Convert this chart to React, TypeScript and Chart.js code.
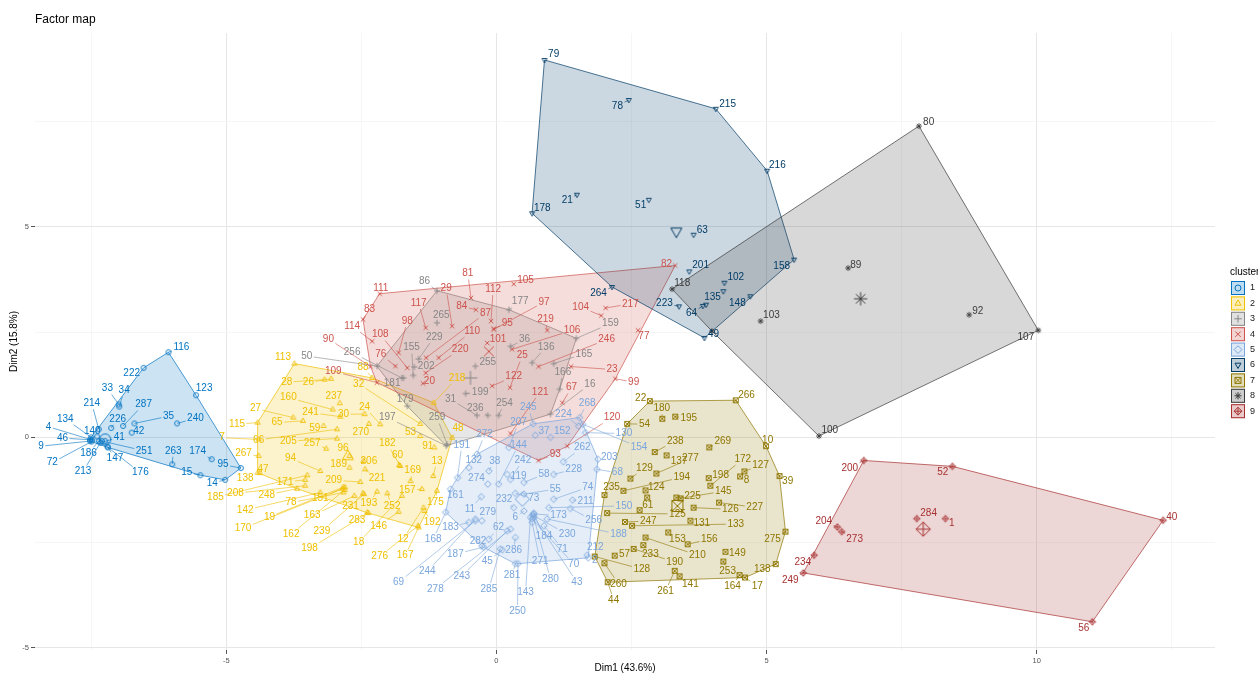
import React, { useEffect, useRef } from "react";
import { Chart, registerables } from "chart.js";

Chart.register(...registerables);

// [label, Dim1, Dim2, labelDim1, labelDim2]
type Row = [string, number, number, number, number];

const cluster1: Row[] = [
  ["116", -6.07, 2.02, -5.83, 2.13], ["222", -6.53, 1.65, -6.75, 1.53], ["123", -5.56, 1.0, -5.41, 1.16],
  ["33", -6.99, 0.78, -7.2, 1.16], ["34", -6.98, 0.73, -6.89, 1.11], ["214", -7.36, 0.19, -7.49, 0.81],
  ["287", -6.91, 0.27, -6.53, 0.78], ["226", -7.13, 0.22, -7.01, 0.44], ["42", -6.75, 0.11, -6.62, 0.15],
  ["35", -6.7, 0.33, -6.07, 0.5], ["240", -5.91, 0.33, -5.57, 0.45], ["140", -7.39, 0.02, -7.48, 0.15],
  ["41", -7.24, -0.09, -6.98, -0.01], ["4", -7.52, -0.05, -8.29, 0.25], ["134", -7.5, 0.0, -7.98, 0.44],
  ["46", -7.49, -0.06, -8.03, -0.02], ["9", -7.52, -0.09, -8.43, -0.21], ["72", -7.49, -0.1, -8.22, -0.6],
  ["186", -7.36, -0.09, -7.55, -0.38], ["213", -7.33, -0.13, -7.65, -0.81], ["147", -7.2, -0.22, -7.06, -0.5],
  ["176", -7.19, -0.24, -6.59, -0.84], ["251", -7.3, -0.09, -6.52, -0.32], ["263", -6.0, -0.64, -5.98, -0.32],
  ["174", -5.27, -0.52, -5.53, -0.33], ["95", -4.73, -0.73, -5.06, -0.65], ["15", -5.48, -0.9, -5.73, -0.84],
  ["14", -5.02, -1.01, -5.26, -1.09],
];

const cluster2: Row[] = [
  ["113", -3.74, 1.75, -3.95, 1.89], ["28", -3.18, 1.37, -3.88, 1.31], ["26", -3.06, 1.39, -3.48, 1.3],
  ["88", -2.3, 1.41, -2.47, 1.67], ["32", -1.41, 0.32, -2.55, 1.27], ["218", -1.16, 0.82, -0.73, 1.41],
  ["48", -0.82, -0.01, -0.71, 0.21], ["160", -3.03, 0.66, -3.85, 0.94], ["237", -2.9, 0.81, -3.01, 0.98],
  ["27", -3.76, 0.47, -4.46, 0.68], ["65", -3.58, 0.39, -4.06, 0.35], ["241", -2.89, 0.49, -3.44, 0.59],
  ["30", -2.44, 0.55, -2.83, 0.55], ["24", -2.15, 0.31, -2.44, 0.72], ["270", -2.36, 0.32, -2.51, 0.11],
  ["115", -4.42, 0.35, -4.8, 0.31], ["59", -3.2, 0.27, -3.36, 0.21], ["66", -2.95, 0.19, -4.4, -0.06],
  ["7", -4.4, -0.05, -5.08, -0.01], ["205", -2.95, -0.03, -3.85, -0.09], ["257", -3.15, -0.27, -3.41, -0.13],
  ["96", -2.72, -0.44, -2.84, -0.27], ["182", -1.78, -0.68, -2.02, -0.15], ["60", -1.8, -0.66, -1.83, -0.43],
  ["53", -1.41, 0.03, -1.59, 0.13], ["91", -1.15, -0.24, -1.27, -0.21], ["13", -1.17, -0.92, -1.1, -0.56],
  ["169", -1.59, -1.04, -1.55, -0.78], ["206", -2.46, -0.56, -2.36, -0.58], ["189", -2.72, -0.72, -2.92, -0.64],
  ["94", -3.26, -0.8, -3.81, -0.5], ["267", -4.4, -0.44, -4.68, -0.39], ["47", -4.38, -0.85, -4.32, -0.76],
  ["221", -2.43, -0.76, -2.21, -0.98], ["209", -2.52, -1.06, -3.01, -1.02], ["171", -3.54, -1.01, -3.91, -1.06],
  ["157", -1.38, -1.23, -1.65, -1.26], ["175", -1.1, -1.27, -1.13, -1.53], ["208", -3.54, -1.15, -4.83, -1.33],
  ["248", -3.69, -1.22, -4.25, -1.37], ["78", -2.83, -1.31, -3.8, -1.55], ["151", -2.8, -1.19, -3.26, -1.45],
  ["142", -3.26, -1.31, -4.65, -1.73], ["19", -2.83, -1.18, -4.2, -1.89], ["170", -2.85, -1.22, -4.69, -2.16],
  ["163", -2.63, -1.39, -3.41, -1.86], ["231", -2.47, -1.33, -2.7, -1.63], ["193", -2.21, -1.29, -2.36, -1.56],
  ["252", -2.02, -1.33, -1.93, -1.63], ["283", -2.39, -1.78, -2.58, -1.98], ["146", -1.81, -1.77, -2.18, -2.1],
  ["162", -2.81, -1.25, -3.8, -2.3], ["239", -2.45, -1.35, -3.23, -2.22], ["198", -2.37, -1.8, -3.46, -2.64],
  ["18", -1.75, -1.39, -2.55, -2.5], ["12", -1.35, -1.67, -1.73, -2.42], ["192", -1.33, -1.75, -1.19, -2.02],
  ["276", -1.45, -2.1, -2.16, -2.83], ["167", -1.44, -2.14, -1.69, -2.81], ["138", -4.42, -0.84, -4.65, -0.98],
  ["185", -3.5, -0.9, -5.2, -1.42],
];

const cluster3: Row[] = [
  ["86", -1.1, 3.48, -1.33, 3.7], ["265", -1.1, 2.72, -1.02, 2.89], ["229", -1.44, 1.86, -1.15, 2.38],
  ["155", -1.54, 1.47, -1.57, 2.13], ["202", -1.52, 1.67, -1.3, 1.69], ["256", -1.75, 1.41, -2.67, 2.01],
  ["50", -2.21, 1.69, -3.51, 1.93], ["181", -1.72, 1.41, -1.93, 1.28], ["177", 0.23, 3.03, 0.44, 3.22],
  ["36", 0.26, 2.16, 0.52, 2.32], ["255", -0.39, 1.69, -0.16, 1.79], ["199", -0.57, 1.04, -0.3, 1.06],
  ["31", -0.36, 0.52, -0.85, 0.9], ["236", -0.16, 0.52, -0.39, 0.7], ["254", 0.04, 0.52, 0.15, 0.82],
  ["136", 0.66, 1.77, 0.92, 2.15], ["165", 1.06, 1.75, 1.62, 1.98], ["166", 1.17, 1.14, 1.23, 1.55],
  ["159", 1.48, 2.35, 2.11, 2.7], ["16", 1.0, 0.55, 1.73, 1.26], ["179", -1.65, 0.74, -1.69, 0.9],
  ["197", -0.93, -0.2, -2.02, 0.47], ["259", -0.91, -0.17, -1.1, 0.47],
];

const cluster4: Row[] = [
  ["111", -2.16, 3.41, -2.14, 3.55], ["29", -0.82, 2.64, -0.93, 3.53], ["81", -0.47, 3.31, -0.53, 3.89],
  ["105", 0.32, 3.64, 0.54, 3.74], ["112", -0.1, 2.76, -0.06, 3.52], ["97", -0.05, 2.56, 0.88, 3.21],
  ["84", -0.38, 3.03, -0.64, 3.11], ["87", -1.3, 1.89, -0.2, 2.95], ["110", -1.07, 1.89, -0.45, 2.52],
  ["220", -1.31, 1.53, -0.67, 2.09], ["117", -1.31, 2.6, -1.44, 3.19], ["98", -1.81, 2.01, -1.65, 2.76],
  ["83", -2.47, 2.8, -2.35, 3.03], ["114", -2.3, 2.28, -2.67, 2.64], ["108", -1.65, 1.65, -2.15, 2.44],
  ["76", -1.87, 1.69, -2.14, 1.97], ["20", -1.36, 1.28, -1.24, 1.33], ["90", -2.33, 1.68, -3.11, 2.34],
  ["109", -2.21, 1.3, -3.02, 1.57], ["101", -0.17, 2.24, 0.03, 2.34], ["95", -0.05, 2.58, 0.2, 2.72],
  ["219", 0.94, 2.54, 0.91, 2.8], ["106", 0.29, 2.09, 1.4, 2.54], ["25", 0.25, 1.18, 0.48, 1.94],
  ["122", -0.08, 1.22, 0.32, 1.44], ["246", 0.78, 1.68, 2.04, 2.32], ["104", 1.94, 2.89, 1.56, 3.09],
  ["217", 2.02, 3.07, 2.48, 3.17], ["77", 2.62, 2.54, 2.73, 2.4], ["82", 3.31, 4.08, 3.15, 4.12],
  ["23", 1.38, 1.68, 2.14, 1.61], ["99", 2.2, 1.39, 2.54, 1.31], ["67", 1.22, 0.82, 1.39, 1.18],
  ["121", 0.26, 0.09, 0.81, 1.08], ["93", 0.78, -0.55, 1.09, -0.4], ["120", 1.31, -0.21, 2.14, 0.47],
];

const cluster5: Row[] = [
  ["268", 1.54, 0.47, 1.68, 0.81], ["224", 1.52, 0.27, 1.24, 0.55], ["245", 0.68, 0.32, 0.59, 0.71],
  ["37", 0.72, 0.05, 0.88, 0.14], ["152", 1.0, 0.0, 1.22, 0.14], ["207", 0.23, -0.24, 0.41, 0.36],
  ["272", -0.36, -0.4, -0.22, 0.07], ["191", -0.72, -0.96, -0.64, -0.18], ["132", -0.51, -0.72, -0.42, -0.54],
  ["38", -0.14, -0.8, -0.03, -0.56], ["144", 0.04, -1.11, 0.41, -0.18], ["242", 0.26, -1.0, 0.49, -0.54],
  ["274", -0.16, -1.11, -0.37, -0.98], ["119", 0.2, -0.88, 0.41, -0.92], ["262", 1.24, -0.58, 1.59, -0.24],
  ["130", 1.65, 0.11, 2.36, 0.09], ["203", 1.88, -0.52, 2.09, -0.47], ["154", 1.6, 0.31, 2.64, -0.23],
  ["58", 0.51, -1.07, 0.88, -0.88], ["228", 1.06, -0.88, 1.43, -0.76], ["68", 1.86, -0.76, 2.24, -0.84],
  ["55", 0.51, -1.35, 1.09, -1.23], ["73", 0.35, -1.33, 0.69, -1.45], ["232", 0.32, -1.67, 0.14, -1.47],
  ["74", 1.06, -1.47, 1.69, -1.19], ["211", 1.41, -1.49, 1.65, -1.52], ["150", 0.97, -1.67, 2.36, -1.63],
  ["6", 0.51, -1.75, 0.35, -1.9], ["173", 0.69, -1.82, 1.15, -1.86], ["256", 1.37, -1.69, 1.8, -1.98],
  ["188", 0.94, -1.94, 2.26, -2.3], ["230", 0.69, -1.86, 1.31, -2.3], ["184", 0.69, -1.8, 0.88, -2.35],
  ["71", 0.88, -2.1, 1.22, -2.65], ["212", 1.68, -2.8, 1.83, -2.61], ["2", 1.7, -2.86, 1.82, -2.93],
  ["70", 0.66, -1.94, 1.43, -3.01], ["43", 0.67, -1.85, 1.49, -3.44], ["280", 0.69, -1.9, 1.0, -3.36],
  ["271", 0.66, -2.02, 0.81, -2.95], ["143", 0.63, -1.9, 0.54, -3.68], ["250", 0.4, -3.0, 0.39, -4.12],
  ["281", 0.35, -3.0, 0.29, -3.27], ["286", 0.35, -2.38, 0.32, -2.69], ["285", 0.07, -2.65, -0.14, -3.6],
  ["45", 0.11, -2.67, -0.17, -2.95], ["282", -0.27, -2.58, -0.34, -2.46], ["62", -0.14, -2.42, 0.04, -2.14],
  ["279", -0.27, -1.98, -0.16, -1.78], ["11", -0.28, -1.41, -0.49, -1.71], ["161", -0.85, -1.23, -0.76, -1.37],
  ["183", -0.51, -2.02, -0.85, -2.13], ["168", -0.94, -1.78, -1.17, -2.42], ["187", -0.24, -2.61, -0.76, -2.77],
  ["244", -0.39, -1.94, -1.28, -3.19], ["243", 0.2, -2.22, -0.64, -3.29], ["278", 0.26, -2.18, -1.13, -3.6],
  ["69", -0.39, -1.98, -1.81, -3.44],
];

const cluster6: Row[] = [
  ["79", 0.89, 8.96, 1.06, 9.1], ["78", 2.45, 8.01, 2.24, 7.87], ["215", 4.06, 7.8, 4.28, 7.91],
  ["216", 5.01, 6.33, 5.2, 6.45], ["178", 0.66, 5.32, 0.85, 5.45], ["21", 1.49, 5.76, 1.31, 5.64],
  ["51", 2.82, 5.64, 2.67, 5.52], ["63", 3.65, 4.81, 3.81, 4.91], ["201", 3.57, 3.94, 3.78, 4.08],
  ["102", 4.22, 3.67, 4.43, 3.79], ["", 4.2, 3.47, 4.2, 3.47], ["158", 5.51, 4.22, 5.28, 4.05],
  ["148", 4.7, 3.35, 4.46, 3.18], ["135", 3.88, 3.15, 4.0, 3.32], ["64", 3.82, 3.12, 3.61, 2.94],
  ["223", 3.38, 3.11, 3.11, 3.18], ["264", 2.14, 3.57, 1.89, 3.41], ["49", 3.85, 2.36, 4.02, 2.44],
];

const cluster7: Row[] = [
  ["22", 2.84, 0.86, 2.67, 0.92], ["266", 4.43, 0.88, 4.63, 1.0], ["180", 3.07, 0.44, 3.06, 0.69],
  ["195", 3.31, 0.49, 3.56, 0.45], ["54", 2.42, 0.32, 2.74, 0.31], ["10", 4.99, -0.21, 5.02, -0.07],
  ["39", 5.24, -0.92, 5.39, -1.04], ["238", 2.93, -0.35, 3.31, -0.09], ["269", 3.94, -0.24, 4.19, -0.09],
  ["137", 3.15, -0.43, 3.38, -0.56], ["277", 2.96, -0.86, 3.59, -0.5], ["129", 2.48, -0.98, 2.74, -0.73],
  ["198", 3.93, -0.97, 4.15, -0.9], ["172", 3.96, -1.15, 4.56, -0.52], ["127", 4.59, -0.81, 4.89, -0.66],
  ["8", 4.51, -0.93, 4.63, -1.02], ["194", 2.35, -1.27, 3.43, -0.95], ["124", 2.76, -1.26, 2.96, -1.18],
  ["", 2.79, -1.43, 2.79, -1.43], ["235", 2.0, -1.37, 2.13, -1.18], ["225", 3.33, -1.43, 3.63, -1.4],
  ["145", 3.41, -1.45, 4.2, -1.28], ["227", 4.12, -1.55, 4.78, -1.66], ["126", 3.65, -1.67, 4.33, -1.71],
  ["61", 2.65, -1.73, 2.8, -1.61], ["125", 2.05, -1.8, 3.35, -1.82], ["247", 2.38, -2.01, 2.81, -1.99],
  ["131", 3.59, -1.98, 3.8, -2.04], ["133", 2.51, -2.1, 4.43, -2.06], ["153", 3.18, -2.26, 3.35, -2.42],
  ["156", 3.54, -2.54, 3.94, -2.42], ["210", 2.76, -2.38, 3.72, -2.8], ["149", 4.24, -2.72, 4.46, -2.75],
  ["233", 2.72, -2.56, 2.85, -2.77], ["190", 2.54, -2.65, 3.3, -2.96], ["57", 2.19, -2.81, 2.37, -2.77],
  ["128", 1.82, -2.83, 2.69, -3.13], ["253", 4.2, -2.95, 4.28, -3.18], ["138", 5.17, -3.01, 4.92, -3.14],
  ["275", 5.35, -2.24, 5.11, -2.42], ["261", 3.3, -3.17, 3.13, -3.65], ["141", 3.39, -3.3, 3.59, -3.48],
  ["164", 4.5, -3.27, 4.37, -3.53], ["17", 4.6, -3.33, 4.83, -3.53], ["260", 2.0, -2.99, 2.26, -3.48],
  ["44", 2.06, -3.44, 2.17, -3.86],
];

const cluster8: Row[] = [
  ["80", 7.82, 7.39, 8.0, 7.49], ["89", 6.51, 4.02, 6.65, 4.08], ["92", 8.75, 2.91, 8.91, 2.99],
  ["107", 10.03, 2.54, 9.8, 2.37], ["100", 5.97, 0.03, 6.17, 0.17], ["103", 4.89, 2.76, 5.09, 2.89],
  ["118", 3.25, 3.52, 3.44, 3.65], ["", 3.99, 2.52, 3.99, 2.52],
];

const cluster9: Row[] = [
  ["200", 6.8, -0.55, 6.54, -0.73], ["52", 8.44, -0.69, 8.26, -0.83], ["40", 12.34, -1.97, 12.5, -1.9],
  ["56", 11.03, -4.38, 10.87, -4.53], ["249", 5.68, -3.22, 5.44, -3.39], ["234", 5.88, -2.8, 5.67, -2.96],
  ["204", 6.31, -2.13, 6.06, -1.99], ["273", 6.39, -2.24, 6.63, -2.42], ["284", 7.78, -1.93, 8.0, -1.8],
  ["1", 8.31, -1.93, 8.43, -2.04],
];

const clusterNames = ["1", "2", "3", "4", "5", "6", "7", "8", "9"];
const clusterColors = ["#0073C2", "#EFC000", "#868686", "#CD534C", "#7AA6DC", "#003C67", "#8F7700", "#3B3B3B", "#A73030"];
const clusterShapes = ["circle", "triangle", "plus", "cross", "diamond", "triangleDown", "squareCross", "asterisk", "diamondPlus"];
const centerX = [-7.24, -2.75, -0.48, -0.14, 0.48, 3.33, 3.35, 6.74, 7.9];
const centerY = [-0.05, -0.45, 1.41, 2.04, -1.47, 4.89, -1.63, 3.29, -2.18];

const xGridValues = [-7.5, -5, -2.5, 0, 2.5, 5, 7.5, 10, 12.5];
const yGridValues = [-5, -2.5, 0, 2.5, 5, 7.5];
const xRange = [-8.54, 13.3];
const yRange = [-5.05, 9.6];

const FONT = '"Liberation Sans", Arial, Helvetica, sans-serif';

function hexA(hex: string, a: number) {
  const n = parseInt(hex.slice(1), 16);
  return `rgba(${(n >> 16) & 255},${(n >> 8) & 255},${n & 255},${a})`;
}

function traceShape(ctx: CanvasRenderingContext2D, kind: string, x: number, y: number, r: number) {
  ctx.beginPath();
  const plus = (s: number) => {
    ctx.moveTo(x - s, y); ctx.lineTo(x + s, y); ctx.moveTo(x, y - s); ctx.lineTo(x, y + s);
  };
  const cross = (s: number) => {
    ctx.moveTo(x - s, y - s); ctx.lineTo(x + s, y + s); ctx.moveTo(x - s, y + s); ctx.lineTo(x + s, y - s);
  };
  const diamond = (s: number) => {
    ctx.moveTo(x, y - s); ctx.lineTo(x + s, y); ctx.lineTo(x, y + s); ctx.lineTo(x - s, y); ctx.closePath();
  };
  switch (kind) {
    case "circle": ctx.arc(x, y, r, 0, Math.PI * 2); break;
    case "triangle":
      ctx.moveTo(x, y - r * 1.15); ctx.lineTo(x + r, y + r * 0.6); ctx.lineTo(x - r, y + r * 0.6); ctx.closePath(); break;
    case "triangleDown":
      ctx.moveTo(x, y + r * 1.15); ctx.lineTo(x + r, y - r * 0.6); ctx.lineTo(x - r, y - r * 0.6); ctx.closePath(); break;
    case "plus": plus(r * 1.25); break;
    case "cross": cross(r * 0.9); break;
    case "diamond": diamond(r * 1.3); break;
    case "squareCross": ctx.rect(x - r, y - r, 2 * r, 2 * r); cross(r); break;
    case "asterisk": plus(r * 1.2); cross(r * 0.85); break;
    case "diamondPlus": diamond(r * 1.3); plus(r * 1.3); break;
  }
  ctx.stroke();
}

function shapeImage(kind: string, color: string, r: number, lw: number) {
  const size = 2 * Math.ceil(r * 1.35 + 2);
  const c = document.createElement("canvas");
  c.width = size; c.height = size;
  const g = c.getContext("2d") as CanvasRenderingContext2D;
  g.strokeStyle = color; g.lineWidth = lw;
  traceShape(g, kind, size / 2, size / 2, r);
  return c;
}

function convexHull(pts: { x: number; y: number }[]) {
  const p = pts.slice().sort((a, b) => a.x - b.x || a.y - b.y);
  if (p.length < 3) return p;
  const cr = (o: any, a: any, b: any) => (a.x - o.x) * (b.y - o.y) - (a.y - o.y) * (b.x - o.x);
  const lower: any[] = [];
  for (const q of p) { while (lower.length >= 2 && cr(lower[lower.length - 2], lower[lower.length - 1], q) <= 0) lower.pop(); lower.push(q); }
  const upper: any[] = [];
  for (let i = p.length - 1; i >= 0; i--) { const q = p[i]; while (upper.length >= 2 && cr(upper[upper.length - 2], upper[upper.length - 1], q) <= 0) upper.pop(); upper.push(q); }
  upper.pop(); lower.pop();
  return lower.concat(upper);
}

export default function App() {
  const ref = useRef<HTMLCanvasElement>(null);
  useEffect(() => {
    document.body.style.margin = "0";
    const canvas = ref.current;
    if (!canvas) return;
    const clusters = [cluster1, cluster2, cluster3, cluster4, cluster5, cluster6, cluster7, cluster8, cluster9];

    const datasets: any[] = [];
    clusters.forEach((rows, k) => {
      datasets.push({
        label: clusterNames[k],
        data: rows.map((r) => ({ x: r[1], y: r[2] })),
        pointStyle: shapeImage(clusterShapes[k], clusterColors[k], 2.5, 0.9),
        pointRadius: 3,
        showLine: false,
      });
      datasets.push({
        label: "center " + clusterNames[k],
        data: [{ x: centerX[k], y: centerY[k] }],
        pointStyle: shapeImage(clusterShapes[k], clusterColors[k], 5.5, 1),
        pointRadius: 6,
        showLine: false,
      });
    });

    const isMajor = (v: number) => Math.abs(v % 5) < 1e-9;

    const hullPlugin = {
      id: "hulls",
      beforeDatasetsDraw(chart: any) {
        const { ctx, chartArea: a } = chart;
        const xs = chart.scales.x, ys = chart.scales.y;
        ctx.save();
        ctx.beginPath(); ctx.rect(a.left, a.top, a.right - a.left, a.bottom - a.top); ctx.clip();
        clusters.forEach((rows, k) => {
          const pts = rows.map((r) => ({ x: xs.getPixelForValue(r[1]), y: ys.getPixelForValue(r[2]) }));
          const hull = convexHull(pts);
          ctx.beginPath();
          hull.forEach((p: any, i: number) => (i ? ctx.lineTo(p.x, p.y) : ctx.moveTo(p.x, p.y)));
          ctx.closePath();
          ctx.fillStyle = hexA(clusterColors[k], 0.2);
          ctx.fill();
          ctx.strokeStyle = clusterColors[k];
          ctx.lineWidth = 0.7;
          ctx.stroke();
        });
        ctx.restore();
      },
    };

    const labelPlugin = {
      id: "pointLabels",
      afterDatasetsDraw(chart: any) {
        const { ctx, chartArea: a } = chart;
        const xs = chart.scales.x, ys = chart.scales.y;
        ctx.save();
        ctx.beginPath(); ctx.rect(a.left, a.top, a.right - a.left, a.bottom - a.top); ctx.clip();
        ctx.font = `10px ${FONT}`;
        ctx.textAlign = "center";
        ctx.textBaseline = "middle";
        clusters.forEach((rows, k) => {
          ctx.strokeStyle = clusterColors[k];
          ctx.fillStyle = clusterColors[k];
          ctx.lineWidth = 0.6;
          rows.forEach((r) => {
            if (!r[0]) return;
            const px = xs.getPixelForValue(r[1]), py = ys.getPixelForValue(r[2]);
            const lx = xs.getPixelForValue(r[3]), ly = ys.getPixelForValue(r[4]);
            const w = ctx.measureText(r[0]).width / 2 + 1.5, h = 6;
            const dx = px - lx, dy = py - ly;
            if (Math.abs(dx) > w || Math.abs(dy) > h) {
              const t = Math.min(w / Math.max(Math.abs(dx), 1e-6), h / Math.max(Math.abs(dy), 1e-6));
              const ex = lx + dx * t, ey = ly + dy * t;
              if (Math.hypot(px - ex, py - ey) > 3) {
                ctx.beginPath(); ctx.moveTo(px, py); ctx.lineTo(ex, ey); ctx.stroke();
              }
            }
            ctx.fillText(r[0], lx, ly);
          });
        });
        ctx.restore();
      },
    };

    const decorPlugin = {
      id: "decor",
      afterDraw(chart: any) {
        const ctx = chart.ctx;
        ctx.save();
        ctx.fillStyle = "#000";
        ctx.font = `12px ${FONT}`;
        ctx.textAlign = "left";
        ctx.textBaseline = "middle";
        ctx.fillText("Factor map", 35, 20);
        ctx.font = `10px ${FONT}`;
        ctx.fillText("cluster", 1230, 272);
        clusterNames.forEach((name, k) => {
          const yc = 288 + k * 15.4;
          ctx.fillStyle = hexA(clusterColors[k], 0.25);
          ctx.fillRect(1231, yc - 7, 14, 14);
          ctx.strokeStyle = clusterColors[k];
          ctx.lineWidth = 1;
          ctx.strokeRect(1231.5, yc - 6.5, 13, 13);
          ctx.lineWidth = 1;
          traceShape(ctx, clusterShapes[k], 1238, yc, 3);
          ctx.fillStyle = "#1a1a1a";
          ctx.font = `9px ${FONT}`;
          ctx.fillText(name, 1250, yc);
        });
        ctx.restore();
      },
    };

    const chart = new Chart(canvas, {
      type: "scatter",
      data: { datasets },
      options: {
        responsive: false,
        maintainAspectRatio: false,
        devicePixelRatio: 1,
        animation: false,
        layout: { padding: { top: 33, right: 43, left: 0, bottom: 0 } },
        plugins: { legend: { display: false }, tooltip: { enabled: false }, title: { display: false } },
        scales: {
          x: {
            type: "linear",
            min: xRange[0],
            max: xRange[1],
            afterBuildTicks: (s: any) => { s.ticks = xGridValues.map((v) => ({ value: v })); },
            afterFit: (s: any) => { s.height = 24; },
            ticks: {
              autoSkip: false, maxRotation: 0, padding: 2, color: "#555",
              font: { size: 7.5, family: FONT },
              callback: (v: any) => (isMajor(Number(v)) ? String(v) : ""),
            },
            grid: {
              color: (c: any) => (c.tick && isMajor(c.tick.value) ? "#E6E6E6" : "#F2F2F2"),
              lineWidth: (c: any) => (c.tick && isMajor(c.tick.value) ? 1 : 0.7),
              tickColor: (c: any) => (c.tick && isMajor(c.tick.value) ? "#555" : "rgba(0,0,0,0)"),
              tickLength: 4,
              tickWidth: 1,
            },
            border: { display: false },
            title: { display: true, text: "Dim1 (43.6%)", color: "#000", font: { size: 10, family: FONT }, padding: { top: 0, bottom: 0 } },
          },
          y: {
            type: "linear",
            min: yRange[0],
            max: yRange[1],
            afterBuildTicks: (s: any) => { s.ticks = yGridValues.map((v) => ({ value: v })); },
            afterFit: (s: any) => { s.width = 35; },
            ticks: {
              autoSkip: false, padding: 2, color: "#555",
              font: { size: 7.5, family: FONT },
              callback: (v: any) => (isMajor(Number(v)) ? String(v) : ""),
            },
            grid: {
              color: (c: any) => (c.tick && isMajor(c.tick.value) ? "#E6E6E6" : "#F2F2F2"),
              lineWidth: (c: any) => (c.tick && isMajor(c.tick.value) ? 1 : 0.7),
              tickColor: (c: any) => (c.tick && isMajor(c.tick.value) ? "#555" : "rgba(0,0,0,0)"),
              tickLength: 4,
              tickWidth: 1,
            },
            border: { display: false },
            title: { display: true, text: "Dim2 (15.8%)", color: "#000", font: { size: 10, family: FONT }, padding: { top: 8, bottom: 0 } },
          },
        },
      } as any,
      plugins: [hullPlugin, labelPlugin, decorPlugin],
    });
    return () => chart.destroy();
  }, []);

  return (
    <div style={{ width: 1258, height: 674, background: "#fff" }}>
      <canvas ref={ref} width={1258} height={674} style={{ display: "block", width: 1258, height: 674 }} />
    </div>
  );
}
